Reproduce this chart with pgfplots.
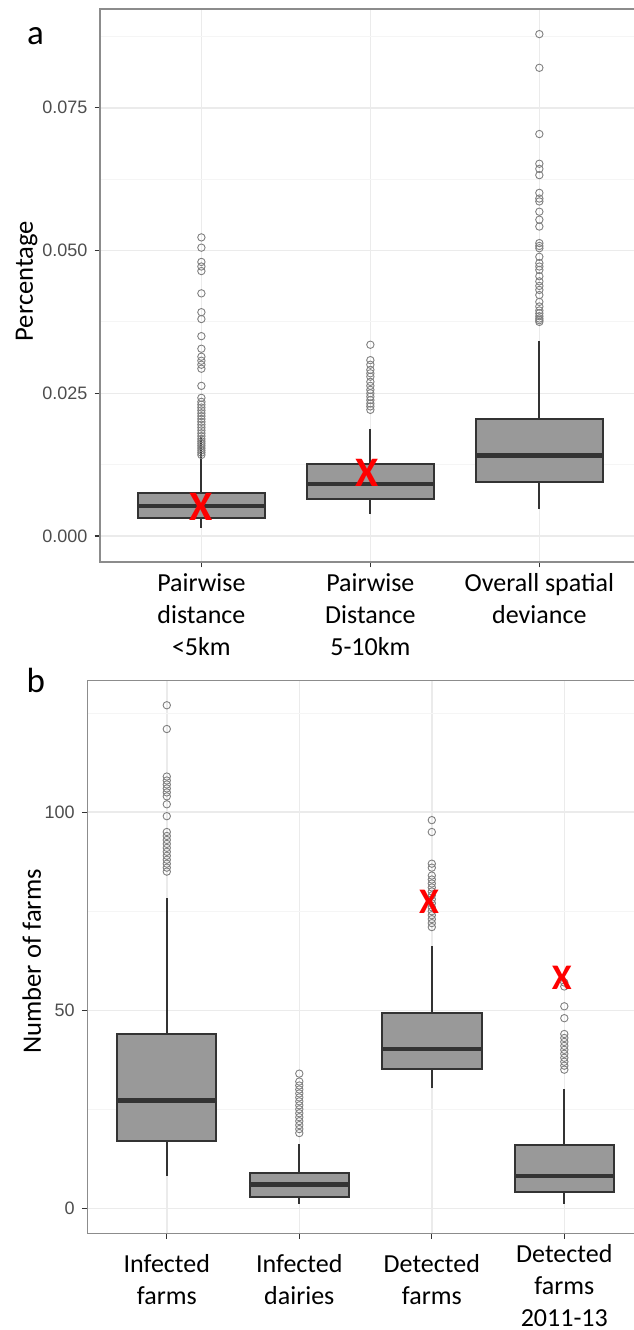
\documentclass[border=0pt]{standalone}
\usepackage{pgfplots}
\pgfplotsset{compat=1.18}
\usepgfplotslibrary{statistics}
\usepackage{fontspec}
\setmainfont{Carlito}
\newfontfamily\arialfont{Liberation Sans}
\definecolor{gridmaj}{HTML}{EBEBEB}
\definecolor{gridmin}{HTML}{F5F5F5}
\definecolor{boxfill}{HTML}{999999}
\definecolor{boxline}{HTML}{333333}
\definecolor{outl}{HTML}{808080}
\definecolor{ticktext}{HTML}{4D4D4D}
\definecolor{xred}{HTML}{FF0000}
\begin{document}
\begin{tikzpicture}
\useasboundingbox (0,0) rectangle (316.5pt,665pt);
\pgfplotsset{
  mybox/.style={
    boxplot/draw direction=y,
    boxplot/box extend=0.75,
    boxplot/whisker extend=0,
    fill=boxfill, draw=boxline, line width=1pt, solid,
    mark=o, mark size=1.85pt,
    mark options={draw=outl, line width=0.45pt, fill=none, solid},
    boxplot/every median/.style={line width=2.2pt},
  },
  redx/.style={only marks, mark=text, color=xred,
    text mark={\textcolor{xred}{\bfseries\fontsize{#1}{#1}\selectfont X}}},
  panel/.style={
    scale only axis,
    anchor=south west,
    axis line style={draw=black!45, line width=0.6pt},
    tick align=outside,
    tickpos=left,
    major tick length=2.75pt,
    minor tick length=0pt,
    tick style={draw=boxline, line width=0.6pt},
    grid=both,
    major grid style={draw=gridmaj, line width=0.75pt},
    minor grid style={draw=gridmin, line width=0.45pt},
    yticklabel style={font=\arialfont\fontsize{9}{10}\selectfont, text=ticktext},
    ylabel style={font=\fontsize{13.3}{16}\selectfont, anchor=center, rotate=0},
  },
}
% ---------------- panel a ----------------
\begin{axis}[panel,
  at={(50pt,384pt)}, width=268pt, height=276.5pt,
  xmin=0.4, xmax=3.572, ymin=-0.00455, ymax=0.0923,
  xtick={1,2,3},
  ytick={0,0.025,0.05,0.075},
  yticklabels={0.000,0.025,0.050,0.075},
  minor ytick={0.0125,0.0375,0.0625,0.0875},
  xticklabels={{Pairwise\\distance\\<5km},{Pairwise\\Distance\\5-10km},{Overall spatial\\deviance}},
  xticklabel style={font=\fontsize{13}{16}\selectfont, align=center, text=black, anchor=north, inner sep=0pt, yshift=-3pt},
  ylabel={Percentage},
  ylabel style={at={(axis description cs:-0.1371,0.508)}},
]
\addplot[mybox, boxplot prepared={draw position=1, lower whisker=0.00145, lower quartile=0.00321, median=0.00526, upper quartile=0.00759, upper whisker=0.0174}]
 table[row sep=\\, y index=0]{data\\ 0.0142\\ 0.0146\\ 0.0150\\ 0.0154\\ 0.0158\\ 0.0162\\ 0.0166\\ 0.0170\\ 0.0175\\ 0.0180\\ 0.0185\\ 0.0190\\ 0.0195\\ 0.0200\\ 0.0205\\ 0.0210\\ 0.0215\\ 0.0220\\ 0.0225\\ 0.0230\\ 0.0235\\ 0.0242\\ 0.0263\\ 0.0293\\ 0.0300\\ 0.0307\\ 0.0314\\ 0.0328\\ 0.0350\\ 0.0380\\ 0.0392\\ 0.0425\\ 0.0464\\ 0.0472\\ 0.0480\\ 0.0505\\ 0.0523\\};
\addplot[mybox, boxplot prepared={draw position=2, lower whisker=0.0038, lower quartile=0.00643, median=0.00906, upper quartile=0.01256, upper whisker=0.01875}]
 table[row sep=\\, y index=0]{data\\ 0.0221\\ 0.0227\\ 0.0232\\ 0.0238\\ 0.0244\\ 0.0250\\ 0.0256\\ 0.0263\\ 0.0270\\ 0.0279\\ 0.0285\\ 0.0291\\ 0.0300\\ 0.0308\\ 0.0335\\};
\addplot[mybox, boxplot prepared={draw position=3, lower whisker=0.00468, lower quartile=0.00951, median=0.01407, upper quartile=0.0205, upper whisker=0.0342}]
 table[row sep=\\, y index=0]{data\\ 0.0375\\ 0.0378\\ 0.0381\\ 0.0385\\ 0.0390\\ 0.0395\\ 0.0402\\ 0.0410\\ 0.0422\\ 0.0431\\ 0.0438\\ 0.0446\\ 0.0455\\ 0.0466\\ 0.0472\\ 0.0478\\ 0.0489\\ 0.0504\\ 0.0508\\ 0.0513\\ 0.0542\\ 0.0554\\ 0.0568\\ 0.0586\\ 0.0591\\ 0.0601\\ 0.0632\\ 0.0643\\ 0.0652\\ 0.0704\\ 0.0820\\ 0.0879\\};
\addplot[redx=21] coordinates {(1,0.0051) (1.98,0.0110)};
\end{axis}
% ---------------- panel b ----------------
\begin{axis}[panel,
  at={(43.65pt,48.35pt)}, width=274.35pt, height=276.3pt,
  xmin=0.4, xmax=4.541, ymin=-6.31, ymax=133.2,
  xtick={1,2,3,4},
  ytick={0,50,100},
  yticklabels={0,50,100},
  minor ytick={25,75,125},
  xticklabels={{Infected\\farms\rule[-6pt]{0pt}{6pt}},{Infected\\dairies\rule[-6pt]{0pt}{6pt}},{Detected\\farms\rule[-6pt]{0pt}{6pt}},{Detected\\farms\\2011-13}},
  xticklabel style={font=\fontsize{13}{16}\selectfont, align=center, text=black, anchor=center, inner sep=0pt, yshift=-23.5pt},
  ylabel={Number of farms},
  ylabel style={at={(axis description cs:-0.1013,0.4919)}},
]
\addplot[mybox, boxplot prepared={draw position=1, lower whisker=8.2, lower quartile=17.1, median=27.2, upper quartile=44.0, upper whisker=78.3}]
 table[row sep=\\, y index=0]{data\\ 85\\ 86\\ 87\\ 88\\ 89\\ 90\\ 91\\ 92\\ 93\\ 94\\ 95\\ 99\\ 102\\ 104\\ 105\\ 106\\ 107\\ 108\\ 109\\ 121\\ 127\\};
\addplot[mybox, boxplot prepared={draw position=2, lower whisker=1.2, lower quartile=2.9, median=6.0, upper quartile=9.0, upper whisker=16.2}]
 table[row sep=\\, y index=0]{data\\ 19\\ 20\\ 21\\ 22\\ 23\\ 24\\ 25\\ 26\\ 27\\ 28\\ 29\\ 30\\ 31\\ 32\\ 34\\};
\addplot[mybox, boxplot prepared={draw position=3, lower whisker=30.3, lower quartile=35.1, median=40.2, upper quartile=49.2, upper whisker=66.1}]
 table[row sep=\\, y index=0]{data\\ 71\\ 72\\ 73\\ 74\\ 75\\ 76\\ 77\\ 78\\ 79\\ 80\\ 81\\ 82\\ 83\\ 84\\ 86\\ 87\\ 95\\ 98\\};
\addplot[mybox, boxplot prepared={draw position=4, lower whisker=1.2, lower quartile=4.0, median=8.2, upper quartile=16.0, upper whisker=30.0}]
 table[row sep=\\, y index=0]{data\\ 35\\ 36\\ 37\\ 38\\ 39\\ 40\\ 41\\ 42\\ 43\\ 44\\ 48\\ 51\\ 56\\ 57\\};
\addplot[redx=18] coordinates {(2.98,77.4) (3.98,58.1)};
\end{axis}
\node[anchor=base west, inner sep=0pt, font=\fontsize{17.5}{17.5}\selectfont] at (13.3pt,642.5pt) {a};
\node[anchor=base west, inner sep=0pt, font=\fontsize{17.5}{17.5}\selectfont] at (13.1pt,318.5pt) {b};
\end{tikzpicture}
\end{document}
